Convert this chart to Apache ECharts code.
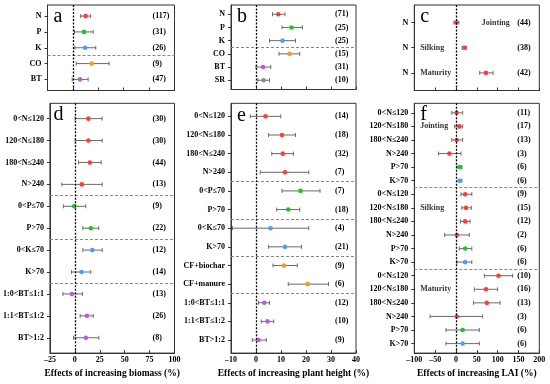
<!DOCTYPE html>
<html><head><meta charset="utf-8">
<script src="https://cdn.jsdelivr.net/npm/echarts@6/dist/echarts.min.js"></script>
<style>html,body{margin:0;padding:0;background:#fff}#c{width:550px;height:384px}</style>
</head><body><div id="c"></div><script>
// ---------- DATA ----------
// Panel a: biomass by nutrient / type
const aCats  = ['N','P','K','CO','BT'];
const aGroup = ['N','P','K','CO','BT'];
const aMean  = [12.5, 11, 12, 18.5, 7];
const aLow   = [7.6, 1.6, 2, 3.3, -0.7];
const aHigh  = [17.5, 20, 22.5, 35.6, 15];
const aN     = [117, 31, 26, 9, 47];

// Panel b: plant height by nutrient / type
const bCats  = ['N','P','K','CO','BT','SR'];
const bGroup = ['N','P','K','CO','BT','SR'];
const bMean  = [8.9, 14.2, 10.6, 13.4, 2.8, 3.0];
const bLow   = [6.6, 10.4, 5.4, 9.2, 0, 0.7];
const bHigh  = [11.6, 18.6, 15.8, 17.5, 5.9, 5.4];
const bN     = [71, 25, 25, 15, 31, 10];

// Panel c: LAI by stage (N)
const cCats  = ['N','N','N'];
const cGroup = ['N','N','N'];
const cMean  = [1, 20, 72];
const cLow   = [-5, 15, 57];
const cHigh  = [7, 25, 89];
const cN     = [44, 38, 42];
const cStages = ['Jointing','Silking','Maturity'];
const cStageRows = [1, 2, 3];

// Panel d: biomass by rate
const dCats  = ['0<N≤120','120<N≤180','180<N≤240','N>240','0<P≤70','P>70','0<K≤70','K>70','1:0<BT≤1:1','1:1<BT≤1:2','BT>1:2'];
const dGroup = ['N','N','N','N','P','P','K','K','BT','BT','BT'];
const dMean  = [13.5, 13.5, 15, 7, -0.7, 16, 17.5, 6.6, -3, 12, 11];
const dLow   = [0.3, 0.3, 3.6, -13, -11.5, 8, 8, -3.3, -12, 5.3, -1.3];
const dHigh  = [27.4, 27.4, 26.4, 27.4, 11, 24, 27.4, 16, 7.6, 18.5, 24];
const dN     = [30, 30, 44, 13, 9, 22, 12, 14, 13, 26, 8];

// Panel e: plant height by rate
const eCats  = ['0<N≤120','120<N≤180','180<N≤240','N>240','0<P≤70','P>70','0<K≤70','K>70','CF+biochar','CF+manure','1:0<BT≤1:1','1:1<BT≤1:2','BT>1:2'];
const eGroup = ['N','N','N','N','P','P','K','K','CO','CO','BT','BT','BT'];
const eMean  = [3.8, 10.4, 10.7, 11.6, 17.8, 12.9, 5.8, 11.6, 11.2, 20.6, 3.3, 4.6, 1.0];
const eLow   = [-2.3, 5.0, 6.3, 1.7, 10.4, 8.3, -9.4, 5.0, 6.8, 12.9, 1.0, 2.1, -1.5];
const eHigh  = [9.9, 15.8, 15.0, 21.1, 25.6, 17.5, 21.1, 18.2, 16.5, 29.0, 5.4, 7.1, 4.1];
const eN     = [14, 18, 32, 7, 7, 18, 4, 21, 9, 6, 12, 10, 9];

// Panel f: LAI by stage and rate
const fCats  = ['0<N≤120','120<N≤180','180<N≤240','N>240','P>70','K>70',
                '0<N≤120','120<N≤180','180<N≤240','N>240','P>70','K>70',
                '0<N≤120','120<N≤180','180<N≤240','N>240','P>70','K>70'];
const fGroup = ['N','N','N','N','P','K','N','N','N','N','P','K','N','N','N','N','P','K'];
const fMean  = [1.6, 8, 1.6, -16, 10, 10,   22, 24, 22, 2, 22, 22,   102, 72, 74, 2, 16, 16];
const fLow   = [-10, -3, -10, -42, 3, 5,    12, 14, 11, -27, 8, 2,   68, 44, 42, -62, -24, -24];
const fHigh  = [16, 16, 16, 12, 14, 14,     38, 37, 34, 32, 38, 38,  136, 100, 106, 64, 56, 56];
const fN     = [11, 17, 13, 3, 6, 6,  9, 15, 12, 2, 6, 6,  10, 16, 13, 3, 6, 6];
const fStages = ['Jointing','Silking','Maturity'];
const fStageRows = [2, 8, 14];

// Axis tick ranges
const abTicks = {min:-25, max:100, interval:25};
const beTicks = {min:-10, max:40, interval:10};
const cfTicks = {min:-100, max:200, interval:50};

// ---------- CHART ----------
const FONT = '"Liberation Serif","Times New Roman",serif';
const colorMap = {N:'#ff3b3b', P:'#1fc41f', K:'#4a9eff', CO:'#ff9526', BT:'#c455ec', SR:'#8a8a8a'};

const panels = [
  {letter:'a', cats:aCats, group:aGroup, mean:aMean, low:aLow, high:aHigh, n:aN, seps:[3.5], x:abTicks,
   rect:{left:47.5, top:5, width:127, height:85.5}},
  {letter:'b', cats:bCats, group:bGroup, mean:bMean, low:bLow, high:bHigh, n:bN, seps:[3.5], x:beTicks,
   rect:{left:231, top:5, width:125, height:84.5}},
  {letter:'c', cats:cCats, group:cGroup, mean:cMean, low:cLow, high:cHigh, n:cN, seps:[], x:cfTicks,
   rect:{left:414.3, top:5, width:125, height:85.5},
   stages:cStages, stageRows:cStageRows, stageX:[62, -86, -86]},
  {letter:'d', cats:dCats, group:dGroup, mean:dMean, low:dLow, high:dHigh, n:dN, seps:[4.5,6.5,8.5], x:abTicks,
   rect:{left:47.5, top:103.3, width:127, height:253.4}, xName:'Effects of increasing biomass (%)'},
  {letter:'e', cats:eCats, group:eGroup, mean:eMean, low:eLow, high:eHigh, n:eN, seps:[4.5,6.5,8.5,10.5], x:beTicks,
   rect:{left:231, top:103.3, width:125, height:253.4}, xName:'Effects of increasing plant height (%)'},
  {letter:'f', cats:fCats, group:fGroup, mean:fMean, low:fLow, high:fHigh, n:fN, seps:[6.5,12.5], x:cfTicks,
   rect:{left:414.3, top:103.3, width:125, height:253.4}, xName:'Effects of increasing LAI (%)',
   stages:fStages, stageRows:fStageRows, stageX:[-86, -86, -86]}
];

const grid=[], xAxis=[], yAxis=[], series=[], graphic=[];
const txt = {fontFamily:FONT, fontWeight:'bold', fontSize:8, color:'#000'};

panels.forEach((p,i)=>{
  grid.push(Object.assign({show:true, borderColor:'#333', borderWidth:1, containLabel:false}, p.rect));
  const rows = p.cats.map((_,k)=>k+1);
  const yMin = 0.3, yMax = p.cats.length + 0.7;
  xAxis.push({
    gridIndex:i, type:'value', min:p.x.min, max:p.x.max, interval:p.x.interval,
    axisLine:{show:true, onZero:false, lineStyle:{color:'#333', width:1}},
    axisTick:{show:true, inside:true, length:3, lineStyle:{color:'#333'}},
    splitLine:{show:false},
    axisLabel:Object.assign({show:!!p.xName, margin:3, formatter:v=>v<0?'\u2013'+(-v):String(v)}, txt),
    name:p.xName||'', nameLocation:'middle', nameGap:12,
    nameTextStyle:{fontFamily:FONT, fontWeight:'bold', fontSize:9.5, color:'#000'}
  });
  yAxis.push({
    gridIndex:i, type:'value', inverse:true, min:yMin, max:yMax,
    axisLine:{show:true, onZero:false, lineStyle:{color:'#333'}},
    axisTick:{show:true, length:3, customValues:rows, lineStyle:{color:'#333'}},
    splitLine:{show:false},
    axisLabel:Object.assign({customValues:rows, margin:6, formatter:v=>p.cats[Math.round(v)-1]||''}, txt)
  });
  yAxis.push({
    gridIndex:i, type:'value', inverse:true, min:yMin, max:yMax, position:'right',
    axisLine:{show:false}, axisTick:{show:false}, splitLine:{show:false},
    axisLabel:Object.assign({inside:true, customValues:rows, align:'left',
      margin:p.letter==='b'||p.letter==='e'?21:22,
      formatter:v=>{const k=Math.round(v)-1; return p.n[k]!==undefined?'('+p.n[k]+')':'';}}, txt)
  });
  const data = p.cats.map((c,k)=>[k+1, p.mean[k], p.low[k], p.high[k]]);
  series.push({
    type:'custom', xAxisIndex:i, yAxisIndex:2*i, animation:false, silent:true,
    renderItem:(params, api)=>{
      const r = api.value(0), m = api.value(1), lo = api.value(2), hi = api.value(3);
      const pl = api.coord([lo, r]), ph = api.coord([hi, r]), pm = api.coord([m, r]);
      const col = colorMap[p.group[params.dataIndex]];
      const st = {stroke:'#6a6a6a', lineWidth:1};
      const cap = 2;
      return {type:'group', children:[
        {type:'line', shape:{x1:pl[0], y1:pl[1], x2:ph[0], y2:ph[1]}, style:st},
        {type:'line', shape:{x1:pl[0], y1:pl[1]-cap, x2:pl[0], y2:pl[1]+cap}, style:st},
        {type:'line', shape:{x1:ph[0], y1:ph[1]-cap, x2:ph[0], y2:ph[1]+cap}, style:st},
        {type:'circle', shape:{cx:pm[0], cy:pm[1], r:2.3}, style:{fill:col}}
      ]};
    },
    encode:{x:[1,2,3], y:0},
    data:data,
    markLine:{
      silent:true, animation:false, symbol:['none','none'], label:{show:false},
      data:[
        ...p.seps.map(s=>({yAxis:s, lineStyle:{type:[3,2], color:'#888', width:1}})),
        {xAxis:0, lineStyle:{type:[2,1.5], color:'#000', width:1.3}}
      ]
    }
  });
  if (p.stages) {
    series.push({
      type:'scatter', xAxisIndex:i, yAxisIndex:2*i, symbolSize:0, animation:false, silent:true,
      data:p.stages.map((s,k)=>({name:s, value:[p.stageX[k], p.stageRows[k]]})),
      label:Object.assign({show:true, position:'right', distance:0, formatter:d=>d.name}, txt)
    });
  }
  graphic.push({type:'text', left:p.rect.left+6, top:p.rect.top+(p.letter==='f'||p.letter==='d'?1:2),
    style:{text:p.letter, font:'20px '+FONT, fill:'#000'}});
});

const chart = echarts.init(document.getElementById('c'), null, {renderer:'canvas'});
chart.setOption({animation:false, grid, xAxis, yAxis, series, graphic});
</script></body></html>
